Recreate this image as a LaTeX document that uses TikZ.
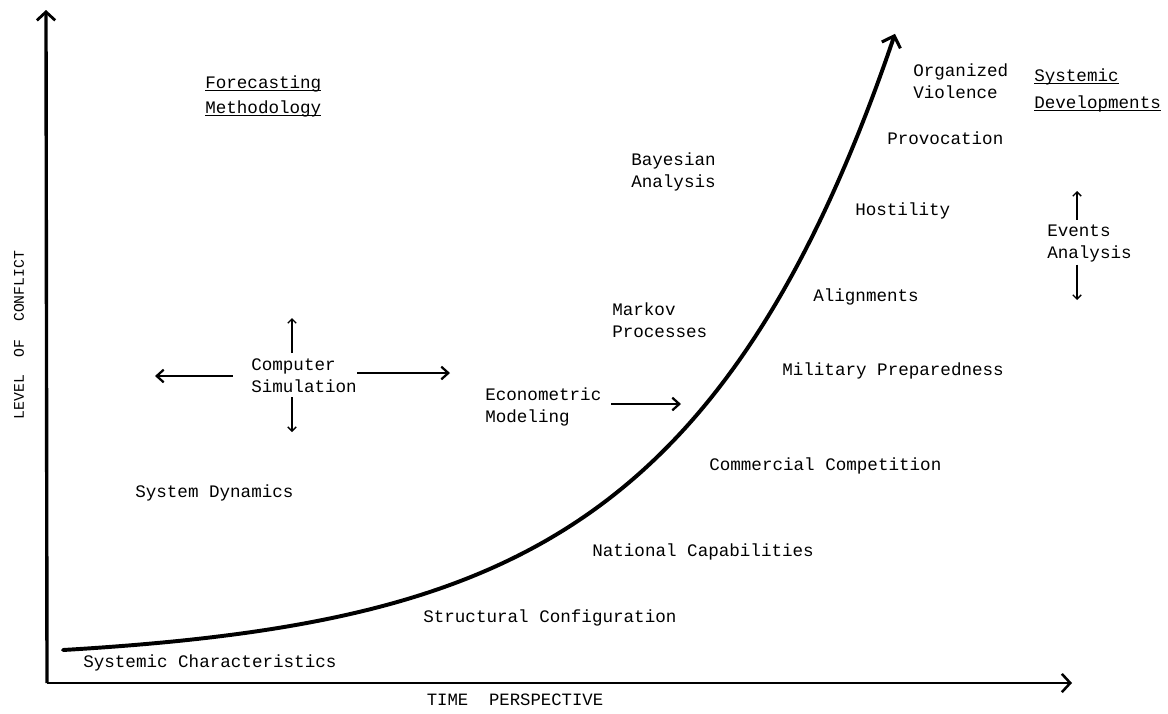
\documentclass[tikz,border=0pt]{standalone}
\usepackage{fontspec}
\setmainfont{Liberation Mono}
\usetikzlibrary{positioning,arrows.meta}

\newcommand{\hdline}[1]{\underline{\raisebox{0pt}[\height][0pt]{#1}}}

\begin{document}
\begin{tikzpicture}[
	x=0.025cm, y=-0.025cm,
	font=\fontsize{12.5}{15.6}\selectfont,
	% labels along the curve and the methods
	lbl/.style={anchor=west, align=left, inner sep=0pt},
	% axis captions
	axlbl/.style={font=\fontsize{10.5}{12}\selectfont, inner sep=0pt},
	% thick arrows of the methods
	fatarr/.style={-{Straight Barb[length=5pt,width=9pt,line width=1.6pt]}, line width=1.8pt},
	% thin up/down arrows
	thinarr/.style={-{Straight Barb[length=3pt,width=6pt,line width=0.9pt]}, line width=0.8pt},
	% the growth curve
	curve/.style={-{Straight Barb[length=7pt,width=14pt,line width=2.2pt]}, line width=2.8pt, line cap=round}
	]
	\useasboundingbox (0,0) rectangle (1168,713);
	
	% ================= Axes =================
	\coordinate (O) at (47,683);
	\coordinate (ytop) at (46,10);
	\coordinate (xend) at (1072,683);
	\draw[line width=2.4pt, -{Straight Barb[length=6pt,width=13pt,line width=2pt]}] (O) -- (ytop);
	\draw[line width=1.1pt, -{Straight Barb[length=6pt,width=13pt,line width=1.8pt]}] (O) -- (xend);
	
	\node[axlbl, font=\fontsize{12.3}{14}\selectfont] (tlbl) at (515,700) {TIME\ \ PERSPECTIVE};
	\node[axlbl, rotate=90] (ylbl) at (19,335) {LEVEL\ \ OF\ \ CONFLICT};
	
	% ================= Curve =================
	\draw[curve] plot[domain=63:895, samples=90, smooth]
		(\x, {650 - 12.6*(exp(0.0047*(\x-63))-1)});
	
	% ================= Headings =================
	\node[lbl] (fmeth) at (205,96) {\hdline{Forecasting}\\[2pt]\hdline{Methodology}};
	\node[lbl] (sdev) at (1034,90) {\hdline{Systemic}\\[4pt]\hdline{Developments}};
	
	% ================= Systemic developments along the curve =================
	\node[lbl] (schar) at (83,663) {Systemic Characteristics};
	\node[lbl] (sconf) at (423,618) {Structural Configuration};
	\node[lbl] (ncap) at (592,552) {National Capabilities};
	\node[lbl] (ccomp) at (709,466) {Commercial Competition};
	\node[lbl] (mprep) at (782,371) {Military Preparedness};
	\node[lbl] (align) at (813,297) {Alignments};
	\node[lbl] (host) at (855,211) {Hostility};
	\node[lbl] (prov) at (887,138) {Provocation};
	\node[lbl] (orgv) at (913,81) {Organized\\Violence};
	
	% ================= Forecasting methods =================
	\node[lbl] (sdyn) at (135,493) {System Dynamics};
	\node[lbl] (csim) at (251,376) {Computer\\Simulation};
	\node[lbl] (econ) at (485,407) {Econometric\\Modeling};
	\node[lbl] (mark) at (612,320) {Markov\\Processes};
	\node[lbl] (bayes) at (631,172) {Bayesian\\Analysis};
	\node[lbl] (evts) at (1047,243) {Events\\Analysis};
	
	% arrows round Computer Simulation
	\coordinate (csimL) at (155,376);
	\coordinate (csimR) at (450,373);
	\coordinate (csimU) at (292,318);
	\coordinate (csimD) at (292,432);
	\draw[fatarr, shorten <=13pt] (csim.west) -- (csimL);
	\draw[fatarr] (csim.east |- csimR) -- (csimR);
	\draw[thinarr, shorten <=4pt] (csim.north -| csimU) -- (csimU);
	\draw[thinarr, shorten <=3pt] (csim.south -| csimD) -- (csimD);
	
	% arrow of Econometric Modeling
	\coordinate (econR) at (681,404);
	\draw[fatarr, shorten <=7pt] (econ.east |- econR) -- (econR);
	
	% arrows of Events Analysis
	\coordinate (evtsU) at (1077,191);
	\coordinate (evtsD) at (1077,300);
	\draw[thinarr, shorten <=3pt] (evts.north -| evtsU) -- (evtsU);
	\draw[thinarr, shorten <=2pt] (evts.south -| evtsD) -- (evtsD);
	
\end{tikzpicture}
\end{document}
